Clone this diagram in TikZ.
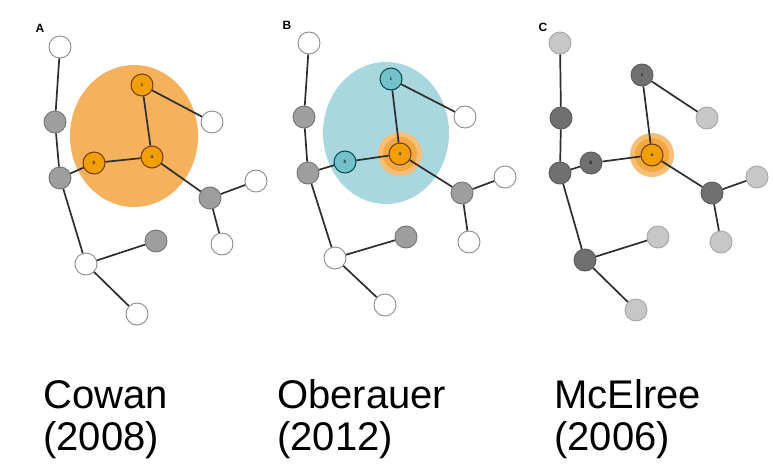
\documentclass[tikz,border=0pt]{standalone}
\usepackage{fontspec}
\setmainfont{Liberation Sans}
\definecolor{bigorange}{HTML}{F6B15C}
\definecolor{ornode}{HTML}{F29F05}
\definecolor{bigblue}{HTML}{A8D7DF}
\definecolor{bluenode}{HTML}{72C1CB}
\definecolor{haloout}{HTML}{F7BE78}
\definecolor{haloin}{HTML}{F3A840}
\begin{document}
\begin{tikzpicture}[x=1pt,y=-1pt,
  nd/.style={circle,minimum size=22pt,inner sep=0pt,line width=0.9pt,font=\fontsize{5}{5}\selectfont},
  wn/.style={nd,draw=black!45,fill=white},
  gn/.style={nd,draw=black!55,fill=black!38},
  on/.style={nd,draw=orange!45!black,fill=ornode,line width=1pt},
  bn/.style={nd,draw=teal!55!black,fill=bluenode,line width=1pt},
  ln/.style={nd,draw=black!35,fill=black!22},
  dn/.style={nd,draw=black!65,fill=black!56},
  ed/.style={draw=black!82,line width=1.7pt},
  lab/.style={font=\bfseries\fontsize{12}{12}\selectfont},
  capt/.style={anchor=base west,inner sep=0pt,font=\fontsize{40}{40}\selectfont}]
\useasboundingbox (0,0) rectangle (773,469);
\fill[white] (0,0) rectangle (773,469);

% ---------- Panel A ----------
\fill[bigorange] (134,136) ellipse [x radius=64pt, y radius=71pt];
\node[lab] (LA) at (40,28) {A};
\node[wn] (A1) at (60,47) {};
\node[gn] (A2) at (55,122) {};
\node[gn] (A3) at (60,178) {};
\node[on] (Ab) at (94,163) {b};
\node[on] (Ac) at (142,85) {c};
\node[on] (Aa) at (152,157) {a};
\node[wn] (A4) at (212,122) {};
\node[gn] (A5) at (210,198) {};
\node[wn] (A6) at (256,181) {};
\node[wn] (A7) at (222,244) {};
\node[wn] (A8) at (86,264) {};
\node[gn] (A9) at (156,241) {};
\node[wn] (A10) at (137,314) {};
\draw[ed] (A1) -- (A2);
\draw[ed] (A2) -- (A3);
\draw[ed] (A3) -- (A8);
\draw[ed] (A8) -- (A10);
\draw[ed] (A8) -- (A9);
\draw[ed] (A3) -- (Ab);
\draw[ed] (Ab) -- (Aa);
\draw[ed] (Aa) -- (Ac);
\draw[ed] (Ac) -- (A4);
\draw[ed] (Aa) -- (A5);
\draw[ed] (A5) -- (A6);
\draw[ed] (A5) -- (A7);

% ---------- Panel B ----------
\fill[bigblue] (386,133) ellipse [x radius=63pt, y radius=71pt];
\fill[haloout] (400,154) circle [radius=22pt];
\fill[haloin] (400,154) circle [radius=17pt];
\node[lab] (LB) at (287,25) {B};
\node[wn] (B1) at (309,43) {};
\node[gn] (B2) at (304,117) {};
\node[gn] (B3) at (308,173) {};
\node[bn] (Bb) at (345,162) {b};
\node[bn] (Bc) at (391,79) {c};
\node[on] (Ba) at (400,154) {a};
\node[wn] (B4) at (465,117) {};
\node[gn] (B5) at (462,193) {};
\node[wn] (B6) at (505,177) {};
\node[wn] (B7) at (469,242) {};
\node[wn] (B8) at (335,258) {};
\node[gn] (B9) at (406,237) {};
\node[wn] (B10) at (385,305) {};
\draw[ed] (B1) -- (B2);
\draw[ed] (B2) -- (B3);
\draw[ed] (B3) -- (B8);
\draw[ed] (B8) -- (B10);
\draw[ed] (B8) -- (B9);
\draw[ed] (B3) -- (Bb);
\draw[ed] (Bb) -- (Ba);
\draw[ed] (Ba) -- (Bc);
\draw[ed] (Bc) -- (B4);
\draw[ed] (Ba) -- (B5);
\draw[ed] (B5) -- (B6);
\draw[ed] (B5) -- (B7);

% ---------- Panel C ----------
\fill[haloout] (652,155) circle [radius=22pt];
\fill[haloin] (652,155) circle [radius=17pt];
\node[lab] (LC) at (543,27) {C};
\node[ln] (C1) at (560,43) {};
\node[dn] (C2) at (561,118) {};
\node[dn] (C3) at (560,173) {};
\node[dn] (Cb) at (591,163) {b};
\node[dn] (Cc) at (642,75) {c};
\node[on] (Ca) at (652,155) {a};
\node[ln] (C4) at (707,118) {};
\node[dn] (C5) at (712,193) {};
\node[ln] (C6) at (757,177) {};
\node[ln] (C7) at (721,242) {};
\node[dn] (C8) at (585,260) {};
\node[ln] (C9) at (658,237) {};
\node[ln] (C10) at (636,310) {};
\draw[ed] (C1) -- (C2);
\draw[ed] (C2) -- (C3);
\draw[ed] (C3) -- (C8);
\draw[ed] (C8) -- (C10);
\draw[ed] (C8) -- (C9);
\draw[ed] (C3) -- (Cb);
\draw[ed] (Cb) -- (Ca);
\draw[ed] (Ca) -- (Cc);
\draw[ed] (Cc) -- (C4);
\draw[ed] (Ca) -- (C5);
\draw[ed] (C5) -- (C6);
\draw[ed] (C5) -- (C7);

% ---------- Captions ----------
\node[capt] (T1) at (43,408) {Cowan};
\node[capt] (T2) at (43,450) {(2008)};
\node[capt] (T3) at (277,408) {Oberauer};
\node[capt] (T4) at (277,450) {(2012)};
\node[capt] (T5) at (554,408) {McElree};
\node[capt] (T6) at (554,450) {(2006)};
\end{tikzpicture}
\end{document}
